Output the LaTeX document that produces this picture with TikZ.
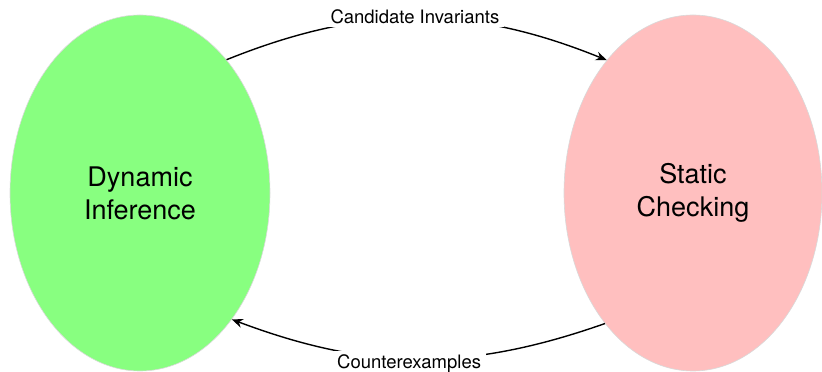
\documentclass[tikz,border=0pt]{standalone}
\usepackage{fontspec}
\setmainfont{TeX Gyre Heros}
\usetikzlibrary{shapes.geometric,arrows.meta}
\definecolor{dyngreen}{RGB}{136,255,128}
\definecolor{statpink}{RGB}{255,191,191}
\tikzset{
  blob/.style={ellipse, draw=black!15, line width=0.6pt, inner sep=0pt, align=center,
    font=\fontsize{27}{33}\selectfont},
  flow/.style={line width=1.4pt, -{Stealth[length=11pt,width=9pt]}},
  lab/.style={fill=white, inner xsep=5pt, inner ysep=4pt, font=\fontsize{18.5}{22}\selectfont}
}
\begin{document}
\begin{tikzpicture}[x=1pt,y=1pt]
\useasboundingbox (0,0) rectangle (822,372);
\node[blob, fill=dyngreen, minimum width=260pt, minimum height=356pt] (L) at (140,179) {Dynamic\\Inference};
\node[blob, fill=statpink, minimum width=258pt, minimum height=356pt] (R) at (693,179) {Static\\Checking};
\draw[flow] (L.57) to[bend left=22] node[lab, pos=0.495, yshift=2pt] {Candidate Invariants} (R.123);
\draw[flow] (R.-124) to[bend left=20] node[lab, pos=0.525, yshift=-5pt] {Counterexamples} (L.-54.5);
\end{tikzpicture}
\end{document}
